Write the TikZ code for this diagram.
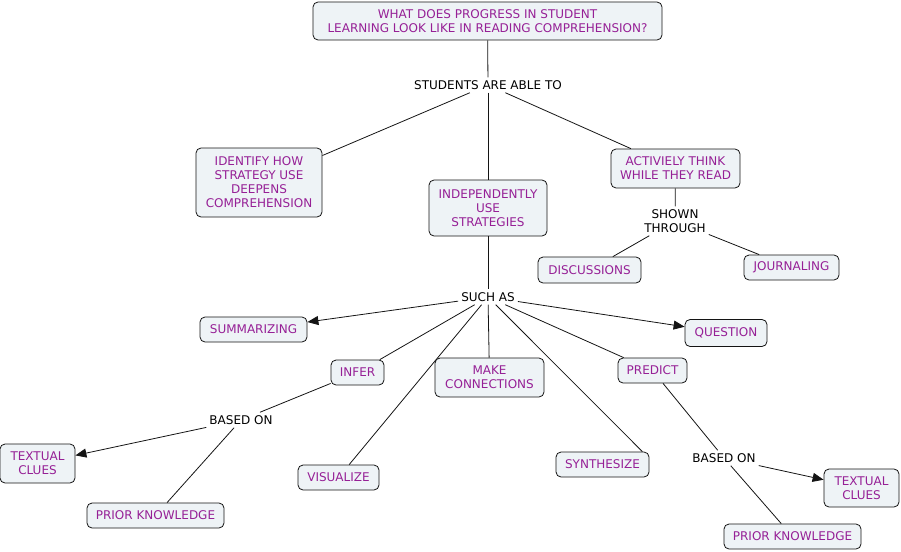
\documentclass[tikz,border=0pt]{standalone}
\usepackage{fontspec}
\setmainfont{DejaVu Sans}
\usetikzlibrary{arrows.meta}
\definecolor{purp}{RGB}{150,32,150}
\definecolor{boxfill}{RGB}{238,243,246}
\definecolor{edgecol}{RGB}{20,20,20}
\tikzset{
  box/.style={draw=edgecol, fill=boxfill, rounded corners=5pt, text=purp, align=center,
    inner sep=2pt, line width=0.8pt, font=\fontsize{12}{14}\selectfont},
  lbl/.style={text=black, align=center, inner sep=3pt, font=\fontsize{12}{14}\selectfont},
  conn/.style={draw=edgecol, line width=0.8pt},
  arr/.style={conn, -{Triangle[length=11pt,width=9pt]}}
}
\begin{document}
\begin{tikzpicture}[x=1pt,y=-1pt]
\useasboundingbox (0,0) rectangle (901,551);
\node[box, minimum width=349pt, minimum height=38pt] (top) at (487.5,21) {WHAT DOES PROGRESS IN STUDENT\\LEARNING LOOK LIKE IN READING COMPREHENSION?};
\node[lbl] (sat) at (488,85) {STUDENTS ARE ABLE TO};
\node[box, minimum width=126pt, minimum height=69pt] (identify) at (259,182.5) {IDENTIFY HOW\\STRATEGY USE\\DEEPENS\\COMPREHENSION};
\node[box, minimum width=118pt, minimum height=56pt] (indep) at (488,208) {INDEPENDENTLY\\USE\\STRATEGIES};
\node[box, minimum width=129pt, minimum height=39pt] (active) at (675.5,168.5) {ACTIVIELY THINK\\WHILE THEY READ};
\node[lbl] (shown) at (675,221) {SHOWN\\THROUGH};
\node[box, minimum width=103pt, minimum height=26pt] (disc) at (589.5,270) {DISCUSSIONS};
\node[box, minimum width=95pt, minimum height=25pt] (journ) at (791.5,267.5) {JOURNALING};
\node[lbl] (such) at (488,297) {SUCH AS};
\node[box, minimum width=107pt, minimum height=25pt] (summ) at (253.5,329.5) {SUMMARIZING};
\node[box, minimum width=82pt, minimum height=27pt] (quest) at (726,333) {QUESTION};
\node[box, minimum width=53pt, minimum height=25pt] (infer) at (357.5,372.5) {INFER};
\node[box, minimum width=109pt, minimum height=39pt] (make) at (489.5,377.5) {MAKE\\CONNECTIONS};
\node[box, minimum width=69pt, minimum height=25pt] (pred) at (652.5,370.5) {PREDICT};
\node[lbl] (basedl) at (241,420) {BASED ON};
\node[box, minimum width=75pt, minimum height=39pt] (textl) at (37.5,463.5) {TEXTUAL\\CLUES};
\node[box, minimum width=81pt, minimum height=25pt] (visual) at (338.5,477.5) {VISUALIZE};
\node[box, minimum width=93pt, minimum height=25pt] (synth) at (602.5,464.5) {SYNTHESIZE};
\node[box, minimum width=137pt, minimum height=25pt] (priorl) at (155.5,515.5) {PRIOR KNOWLEDGE};
\node[lbl] (basedr) at (724,458) {BASED ON};
\node[box, minimum width=75pt, minimum height=38pt] (textr) at (861.5,488) {TEXTUAL\\CLUES};
\node[box, minimum width=137pt, minimum height=25pt] (priorr) at (792.5,536.5) {PRIOR KNOWLEDGE};

\draw[conn] (top) -- (sat);
\draw[conn] (sat) -- (identify);
\draw[conn] (sat) -- (indep);
\draw[conn] (sat) -- (active);
\draw[conn] (active) -- (shown);
\draw[conn] (shown) -- (disc);
\draw[conn] (shown) -- (journ);
\draw[conn] (indep) -- (such);
\draw[arr] (such) -- (summ);
\draw[arr] (such) -- (quest);
\draw[conn] (such) -- (infer);
\draw[conn] (such) -- (make);
\draw[conn] (such) -- (pred);
\draw[conn] (such) -- (visual);
\draw[conn] (such) -- ([xshift=-7pt]synth.north east);
\draw[conn] (infer) -- (basedl);
\draw[arr] (basedl) -- (textl);
\draw[conn] (basedl) -- (priorl);
\draw[conn] (pred) -- (basedr);
\draw[arr] (basedr) -- (textr);
\draw[conn] (basedr) -- (priorr);
\end{tikzpicture}
\end{document}
